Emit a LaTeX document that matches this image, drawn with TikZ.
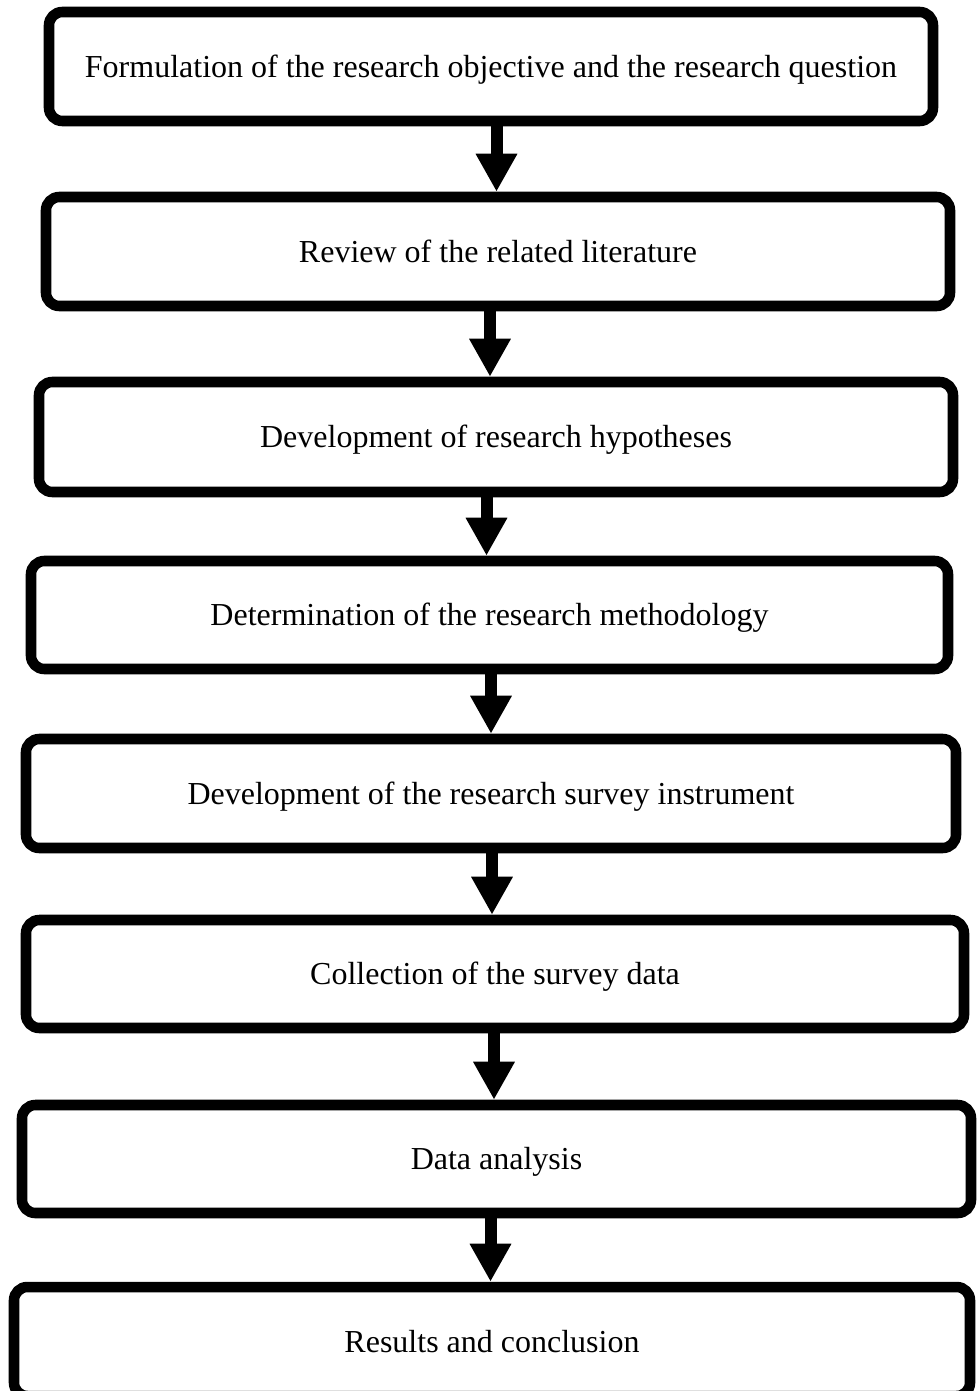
\documentclass[tikz,border=0pt]{standalone}
\usepackage{fontspec}
\setmainfont{Liberation Serif}
\usetikzlibrary{arrows.meta}

\tikzset{
  stepbox/.style={draw=black, fill=white, line width=7.9pt, rounded corners=10pt,
    inner sep=0pt, text height=15.9pt, text depth=0pt,
    font=\fontsize{24pt}{28pt}\selectfont},
  bw/.style={minimum width=#1*0.75pt},
  bh/.style={minimum height=#1*0.75pt},
  flow/.style={line width=9pt, draw=black,
    -{Triangle[width=29.25pt,length=28.5pt]}},
}

\begin{document}
\begin{tikzpicture}[x=0.75pt,y=-0.75pt]
  \fill[white] (0,0) rectangle (976,1391);
  \useasboundingbox (0,0) rectangle (976,1391);

  % process steps
  \node[stepbox,bw=884,bh=109] (b1) at (491,66.5)
    {Formulation of the research objective and the research question};
  \node[stepbox,bw=904,bh=109] (b2) at (498,251.5)
    {Review of the related literature};
  \node[stepbox,bw=914,bh=110] (b3) at (496,437)
    {Development of research hypotheses};
  \node[stepbox,bw=917,bh=108] (b4) at (489.5,615)
    {Determination of the research methodology};
  \node[stepbox,bw=930,bh=109] (b5) at (491,793.5)
    {Development of the research survey instrument};
  \node[stepbox,bw=938,bh=108] (b6) at (495,974)
    {Collection of the survey data};
  \node[stepbox,bw=949,bh=108] (b7) at (496.5,1159)
    {Data analysis};
  \node[stepbox,bw=956,bh=109] (b8) at (492,1341.5)
    {Results and conclusion};

  % horizontal positions of the connecting arrows
  \coordinate (x1) at (496.5,0);
  \coordinate (x2) at (490,0);
  \coordinate (x3) at (486.5,0);
  \coordinate (x4) at (491,0);
  \coordinate (x5) at (492,0);
  \coordinate (x6) at (494,0);
  \coordinate (x7) at (490.5,0);

  \draw[flow] (b1.south -| x1) -- (b2.north -| x1);
  \draw[flow] (b2.south -| x2) -- (b3.north -| x2);
  \draw[flow] (b3.south -| x3) -- (b4.north -| x3);
  \draw[flow] (b4.south -| x4) -- (b5.north -| x4);
  \draw[flow] (b5.south -| x5) -- (b6.north -| x5);
  \draw[flow] (b6.south -| x6) -- (b7.north -| x6);
  \draw[flow] (b7.south -| x7) -- (b8.north -| x7);
\end{tikzpicture}
\end{document}
